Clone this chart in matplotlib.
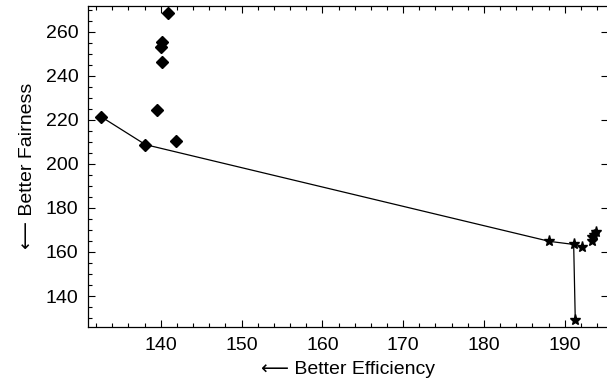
import matplotlib.pyplot as plt

plt.rcParams['font.family'] = ['Liberation Sans', 'DejaVu Sans']

# diamonds
diamond_x = [132.6, 138.1, 141.9, 139.5, 140.1, 140.0, 140.2, 140.9]
diamond_y = [221.4, 208.7, 210.4, 224.2, 246.0, 253.0, 255.3, 268.4]

# stars
star_x = [188.1, 191.1, 192.1, 191.3, 193.4, 193.4, 193.6, 193.9]
star_y = [164.8, 163.4, 162.2, 129.0, 165.0, 166.6, 167.8, 168.9]

# front line through the best points
front_x = [132.6, 138.1, 188.1, 191.1, 191.3]
front_y = [221.4, 208.7, 164.8, 163.4, 129.0]

fig = plt.figure(figsize=(6.07, 3.85), dpi=100)
ax = fig.add_axes([0.145, 0.151, 0.856, 0.834])

ax.plot(front_x, front_y, color='black', linewidth=0.9, zorder=2)
ax.plot(diamond_x, diamond_y, linestyle='none', marker='D', markersize=6,
        color='black', zorder=3)
ax.plot(star_x, star_y, linestyle='none', marker='*', markersize=8,
        color='black', zorder=3)

ax.set_xlim(131, 195.3)
ax.set_ylim(126, 271.7)
ax.set_xticks([140, 150, 160, 170, 180, 190])
ax.set_xticks(range(132, 196, 2), minor=True)
ax.set_yticks([140, 160, 180, 200, 220, 240, 260])
ax.set_yticks(range(130, 272, 5), minor=True)

ax.tick_params(which='both', direction='in', top=True, right=True,
               labelsize=14, width=0.8)
ax.tick_params(which='major', length=5, pad=7)
ax.tick_params(which='minor', length=3)
ax.tick_params(axis='y', which='minor', right=False)

for s in ax.spines.values():
    s.set_linewidth(0.9)

ax.set_xlabel('⟵ Better Efficiency', fontsize=14, labelpad=5)
ax.set_ylabel('⟵ Better Fairness', fontsize=14, labelpad=7)

plt.savefig('out.png', dpi=100)
